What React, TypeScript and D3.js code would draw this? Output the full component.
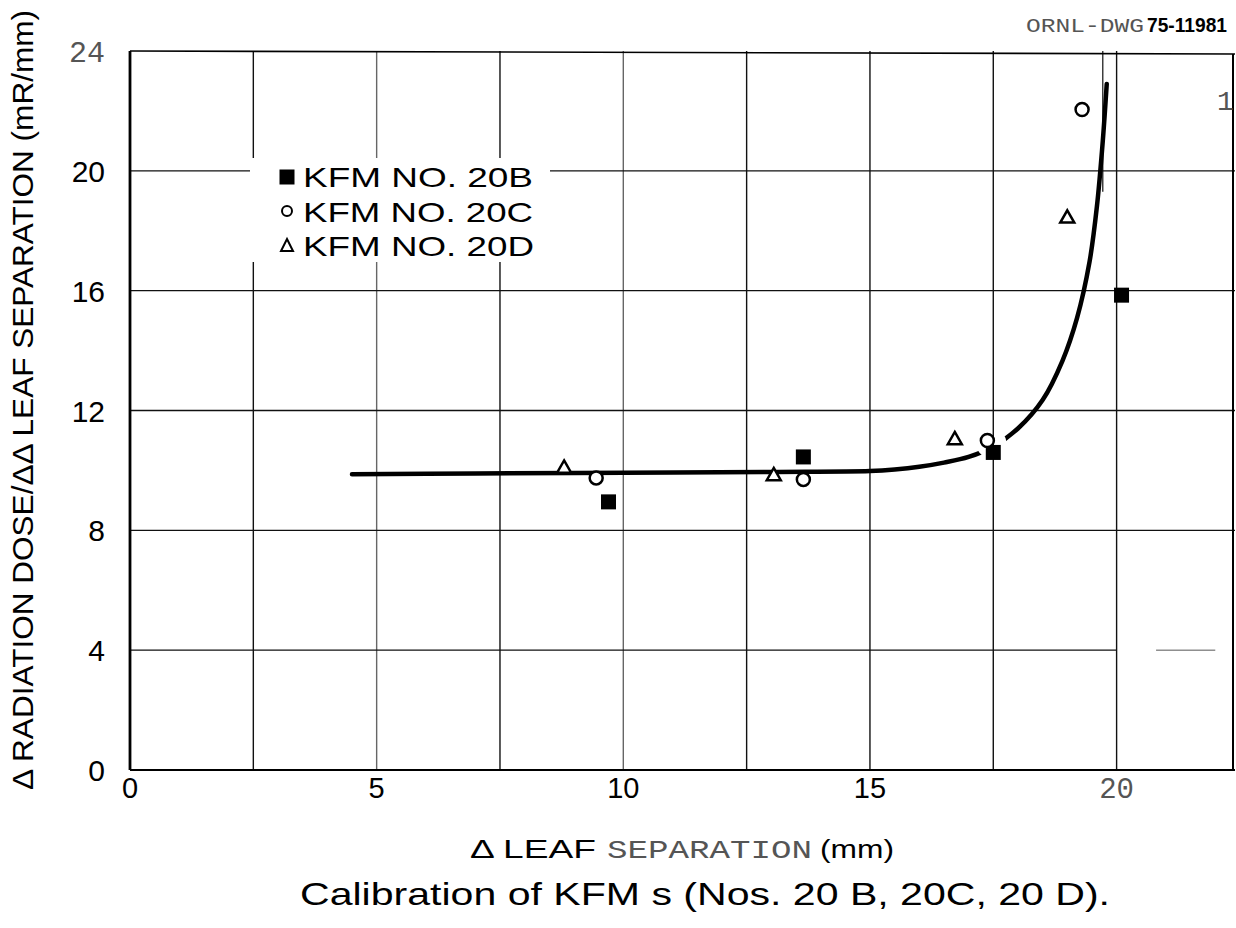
import React from "react";
import * as d3 from "d3";

// ---- data ----
const xTicks = [0, 5, 10, 15, 20];
const yTicks = [0, 4, 8, 12, 16, 20, 24];
const xGrid = [2.5, 5, 7.5, 10, 12.5, 15, 17.5, 20];
const yGrid = [4, 8, 12, 16, 20];

const seriesNames = ["KFM NO. 20B", "KFM NO. 20C", "KFM NO. 20D"];
const b20X = [9.7, 13.65, 17.5, 20.1];
const b20Y = [8.95, 10.45, 10.6, 15.85];
const c20X = [9.45, 13.65, 17.38, 19.3];
const c20Y = [9.75, 9.7, 11.0, 22.05];
const d20X = [8.8, 13.05, 16.72, 19.0];
const d20Y = [10.1, 9.85, 11.05, 18.45];

const curveX = [4.5, 7, 10, 13, 15, 15.5, 16, 16.5, 17, 17.5, 18, 18.5, 18.9, 19.2, 19.45, 19.6, 19.72, 19.8];
const curveY = [9.87, 9.9, 9.92, 9.95, 9.98, 10.03, 10.12, 10.26, 10.45, 10.8, 11.4, 12.35, 13.65, 15.1, 16.95, 18.8, 21.0, 22.9];

const W = 1236;
const H = 928;
const x = d3.scaleLinear().domain([0, 22.4]).range([130, 1235]);
const y = d3.scaleLinear().domain([0, 24]).range([770, 51]);

const SANS = "'Liberation Sans', 'DejaVu Sans', sans-serif";
const MONO = "'Liberation Mono', 'DejaVu Sans Mono', monospace";

function Square({ cx, cy }: { cx: number; cy: number }) {
  return <rect x={cx - 7.5} y={cy - 7.5} width={15} height={15} fill="#000" />;
}
function Circ({ cx, cy }: { cx: number; cy: number }) {
  return <circle cx={cx} cy={cy} r={6.5} fill="#fff" stroke="#000" strokeWidth={2.5} />;
}
function Tri({ cx, cy }: { cx: number; cy: number }) {
  const s = 7;
  return (
    <path
      d={`M${cx},${cy - s} L${cx + s},${cy + s * 0.75} L${cx - s},${cy + s * 0.75} Z`}
      fill="#fff"
      stroke="#000"
      strokeWidth={2.5}
      strokeLinejoin="miter"
    />
  );
}

export default function App() {
  const pts = curveX.map((v, i) => [v, curveY[i]] as [number, number]);
  const line = d3
    .line<[number, number]>()
    .x((d) => x(d[0]))
    .y((d) => y(d[1]))
    .curve(d3.curveCatmullRom.alpha(0.5));
  const curvePath = line(pts) || "";

  const x0 = x(0);
  const xR = x(22.4);
  const y0 = y(0);
  const yT = y(24);

  const gapPt = [c20X[2], c20Y[2]];

  return (
    <svg
      width={W}
      height={H}
      viewBox={`0 0 ${W} ${H}`}
      style={{ position: "absolute", left: 0, top: 0, background: "#fff" }}
    >
      <rect x={0} y={0} width={W} height={H} fill="#fff" />
      <defs>
        <mask id="curveMask">
          <rect x={0} y={0} width={W} height={H} fill="#fff" />
          <circle cx={x(gapPt[0]) + 4} cy={y(gapPt[1]) + 3} r={15} fill="#000" />
        </mask>
      </defs>

      {/* grid */}
      <g stroke="#111" strokeWidth={1.4}>
        {xGrid.map((g) => (
          <line key={"vx" + g} x1={x(g)} x2={x(g)} y1={yT} y2={y0} stroke={g === 5 || g === 10 ? "#666" : "#111"} />
        ))}
        {yGrid.map((g) =>
          g === 4 ? (
            <g key={"hy" + g}>
              <line x1={x0} x2={x(20)} y1={y(g)} y2={y(g)} />
              <line x1={x(20.8)} x2={x(22)} y1={y(g)} y2={y(g)} stroke="#555" strokeWidth={1} />
            </g>
          ) : (
            <line key={"hy" + g} x1={x0} x2={xR} y1={y(g)} y2={y(g)} />
          )
        )}
        <line x1={x(19.72)} x2={x(19.72)} y1={yT} y2={y(19.3)} strokeWidth={1.2} />
      </g>
      {/* frame */}
      <g stroke="#000" fill="none">
        <line x1={x0} x2={x0} y1={yT} y2={y0} strokeWidth={2.8} />
        <line x1={x0} x2={xR} y1={y0} y2={y0} strokeWidth={2.2} />
        <line x1={x0} x2={xR} y1={yT} y2={yT + 3} strokeWidth={1.6} />
        <line x1={xR - 2} x2={xR - 2} y1={yT + 3} y2={y0} strokeWidth={2} />
      </g>

      {/* curve */}
      <path d={curvePath} fill="none" stroke="#000" strokeWidth={4.5} strokeLinecap="round" mask="url(#curveMask)" />

      {/* points */}
      {b20X.map((v, i) => (
        <Square key={"b" + i} cx={x(v)} cy={y(b20Y[i])} />
      ))}
      {c20X.map((v, i) => (
        <Circ key={"c" + i} cx={x(v)} cy={y(c20Y[i])} />
      ))}
      {d20X.map((v, i) => (
        <Tri key={"d" + i} cx={x(v)} cy={y(d20Y[i])} />
      ))}

      {/* legend */}
      <rect x={250} y={158} width={300} height={104} fill="#fff" />
      <Square cx={287} cy={177} />
      <circle cx={287} cy={211} r={5} fill="#fff" stroke="#000" strokeWidth={2} />
      <path d="M287,239 L293,251 L281,251 Z" fill="#fff" stroke="#000" strokeWidth={2} />
      {seriesNames.map((s, i) => (
        <text key={s} x={303} y={187 + i * 34.5} fontFamily={SANS} fontSize={28} fill="#000" textLength={i === 2 ? 231 : 230} lengthAdjust="spacingAndGlyphs">
          {s}
        </text>
      ))}

      {/* y tick labels */}
      {yTicks.map((t) => (
        <text
          key={"yt" + t}
          x={105}
          y={y(t) + 11}
          textAnchor="end"
          fontFamily={t === 24 ? MONO : SANS}
          fontSize={30}
          fill={t === 24 ? "#555" : "#000"}
        >
          {t}
        </text>
      ))}
      {/* x tick labels */}
      {xTicks.map((t) => (
        <text
          key={"xt" + t}
          x={x(t)}
          y={798}
          textAnchor="middle"
          fontFamily={t === 20 ? MONO : SANS}
          fontSize={29}
          fill={t === 20 ? "#555" : "#000"}
        >
          {t}
        </text>
      ))}

      {/* axis titles */}
      <text
        transform="translate(33,400) rotate(-90)"
        textAnchor="middle"
        fontFamily={SANS}
        fontSize={29}
        fill="#000"
        textLength={780}
        lengthAdjust="spacingAndGlyphs"
      >
        Δ RADIATION DOSE/ΔΔ LEAF SEPARATION (mR/mm)
      </text>
      <text y={858} fontFamily={SANS} fontSize={26} fill="#000">
        <tspan x={470} textLength={126} lengthAdjust="spacingAndGlyphs">Δ LEAF</tspan>
        <tspan x={607} fontFamily={MONO} fill="#555" textLength={205} lengthAdjust="spacingAndGlyphs">SEPARATION</tspan>
        <tspan x={820} textLength={74} lengthAdjust="spacingAndGlyphs">(mm)</tspan>
      </text>
      <text x={300} y={905} fontFamily={SANS} fontSize={32} fill="#000" textLength={810} lengthAdjust="spacingAndGlyphs">
        Calibration of KFM s (Nos. 20 B, 20C, 20 D).
      </text>

      {/* drawing id */}
      <text x={1026} y={32} fontFamily={MONO} fontSize={21} fill="#555" textLength={118} lengthAdjust="spacingAndGlyphs">ORNL-DWG</text>
      <text x={1147} y={32} fontFamily={SANS} fontSize={21} fontWeight="bold" fill="#000" textLength={80} lengthAdjust="spacingAndGlyphs">75-11981</text>
      <text x={1217} y={110} fontFamily={MONO} fontSize={28} fill="#555">1</text>
    </svg>
  );
}
